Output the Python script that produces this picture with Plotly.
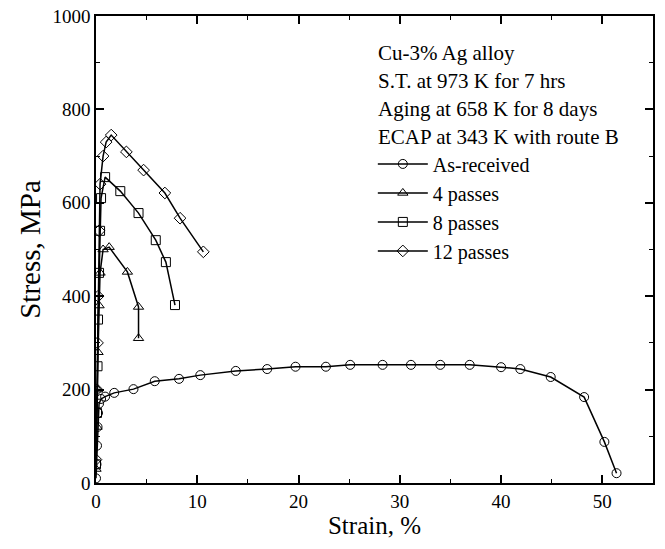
import plotly.graph_objects as go

# Data (strain %, stress MPa)
as_rec_x = [0, 0.05, 0.1, 0.15, 0.2, 0.3, 0.5, 0.9, 1.8, 3.7, 5.8, 8.2, 10.3, 13.8, 16.9, 19.7, 22.7, 25.1, 28.3,
            31.1, 34.0, 36.9, 40.0, 41.9, 44.9, 48.2, 50.2, 51.4]
as_rec_y = [10, 40, 80, 120, 150, 170, 180, 185, 193, 201, 218, 223, 231, 240, 244, 249, 249, 253, 253,
            253, 253, 253, 248, 244, 227, 184, 88, 21]

p4_x = [0, 0.1, 0.15, 0.2, 0.3, 0.4, 0.7, 1.3, 3.1, 4.2, 4.2]
p4_y = [30, 120, 200, 280, 380, 450, 500, 505, 452, 377, 310]

p8_x = [0, 0.1, 0.15, 0.2, 0.3, 0.4, 0.5, 0.9, 2.4, 4.2, 5.9, 6.9, 7.8]
p8_y = [40, 150, 250, 350, 450, 540, 610, 655, 625, 578, 520, 473, 381]

p12_x = [0, 0.1, 0.15, 0.2, 0.3, 0.4, 0.7, 1.0, 1.5, 3.0, 4.7, 6.8, 8.3, 10.6]
p12_y = [50, 200, 300, 400, 540, 640, 700, 730, 745, 709, 670, 621, 567, 495]

series = [
    ("As-received", as_rec_x, as_rec_y, "circle-open"),
    ("4 passes", p4_x, p4_y, "triangle-up-open"),
    ("8 passes", p8_x, p8_y, "square-open"),
    ("12 passes", p12_x, p12_y, "diamond-open"),
]

note_lines = ["Cu-3% Ag alloy", "S.T. at 973 K for 7 hrs", "Aging at 658 K for 8 days", "ECAP at 343 K with route B"]

x_ticks = [0, 10, 20, 30, 40, 50]
y_ticks = [0, 200, 400, 600, 800, 1000]

FONT = "Liberation Serif"
PLOT_TOP, PLOT_BOTTOM = 16, 483

fig = go.Figure()
for name, xs, ys, sym in series:
    fig.add_trace(go.Scatter(
        x=xs, y=ys, name=name, mode="lines+markers",
        line=dict(color="black", width=1.5),
        marker=dict(symbol=sym, size=9, color="black", line=dict(width=1, color="#333333")),
    ))

# note lines (pixel rows converted to paper fraction)
for i, t in enumerate(note_lines):
    yc = 53 + 28 * i
    fig.add_annotation(
        xref="paper", yref="paper", x=0.503, y=(PLOT_BOTTOM - yc) / (PLOT_BOTTOM - PLOT_TOP),
        xanchor="left", yanchor="middle", align="left", showarrow=False,
        text=t, font=dict(family=FONT, size=21, color="black"),
    )

axis_common = dict(
    showline=True, linecolor="black", linewidth=1.5, mirror="ticks",
    ticks="inside", ticklen=8, tickwidth=1.5, tickcolor="black",
    showgrid=False, zeroline=False, automargin=False,
    tickfont=dict(family=FONT, size=19, color="black"),
)

fig.update_xaxes(
    range=[0, 55], tickvals=x_ticks, ticktext=[str(v) for v in x_ticks],
    minor=dict(ticks="inside", ticklen=4, dtick=5, tickcolor="black", tickwidth=1.2),
    title=dict(text="Strain, %", font=dict(family=FONT, size=25, color="black"), standoff=5),
    **axis_common,
)
fig.update_yaxes(
    range=[0, 1000], tickvals=y_ticks, ticktext=[str(v) for v in y_ticks],
    minor=dict(ticks="inside", ticklen=4, dtick=100, tickcolor="black", tickwidth=1.2),
    title=dict(text="Stress, MPa", font=dict(family=FONT, size=29, color="black"), standoff=3),
    **axis_common,
)

fig.update_layout(
    width=665, height=549,
    margin=dict(l=96, r=12, t=16, b=66),
    paper_bgcolor="white", plot_bgcolor="white",
    showlegend=True,
    legend=dict(
        x=0.497, y=0.725, xanchor="left", yanchor="top",
        font=dict(family=FONT, size=20, color="black"),
        bgcolor="rgba(0,0,0,0)", borderwidth=0, tracegroupgap=0,
        itemwidth=50,
    ),
)

fig.write_html("out.html", config={"displayModeBar": False},
               post_script="document.body.style.margin='0';")
